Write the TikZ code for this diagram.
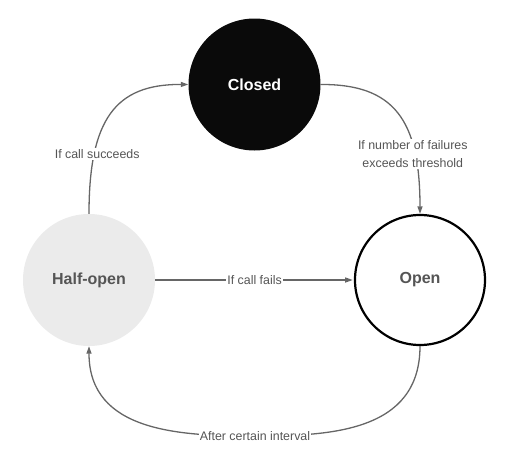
\documentclass[tikz,border=0pt]{standalone}
\usepackage{fontspec}
\setmainfont{Liberation Sans}
\usetikzlibrary{arrows.meta}
\definecolor{edgegray}{HTML}{666666}
\definecolor{textgray}{HTML}{555555}
\definecolor{halffill}{HTML}{EBEBEB}
\definecolor{closedfill}{HTML}{0A0A0A}
\begin{document}
\begin{tikzpicture}[x=1pt,y=-1pt,
  state/.style={circle, minimum size=132pt, inner sep=0pt, font=\fontsize{16}{19}\selectfont\bfseries},
  conn/.style={draw=edgegray, line width=1.3pt, -{Triangle[length=7.5pt,width=5pt]}},
  elabel/.style={fill=white, text=textgray, inner sep=1pt, font=\fontsize{12.4}{18}\selectfont, align=center}
]
\useasboundingbox (0,0) rectangle (509,466);
\node[state, fill=closedfill, text=white] (closed) at (254.5,84.5) {Closed};
\node[state, fill=halffill, text=textgray] (half) at (89,280) {Half-open};
\node[state, draw=black, line width=2.2pt, fill=white, minimum size=130pt, text=textgray] (open) at (420,280) {Open};

\draw[conn] (half.north) .. controls (89,120) and (115,84) .. node[elabel, pos=0.25, xshift=3pt] {If call succeeds} (closed.west);
\draw[conn] (closed.east) .. controls (394,84) and (420,120) .. node[elabel, pos=0.75, xshift=-2pt] {If number of failures\\exceeds threshold} (open.north);
\draw[conn, shorten >=1.2pt] (half.east) -- node[elabel, pos=0.5] {If call fails} (open.west);
\draw[conn] (open.south) .. controls (420,432) and (330,436) .. (255,436) node[elabel] {After certain interval} .. controls (180,436) and (89,432) .. (half.south);
\end{tikzpicture}
\end{document}
